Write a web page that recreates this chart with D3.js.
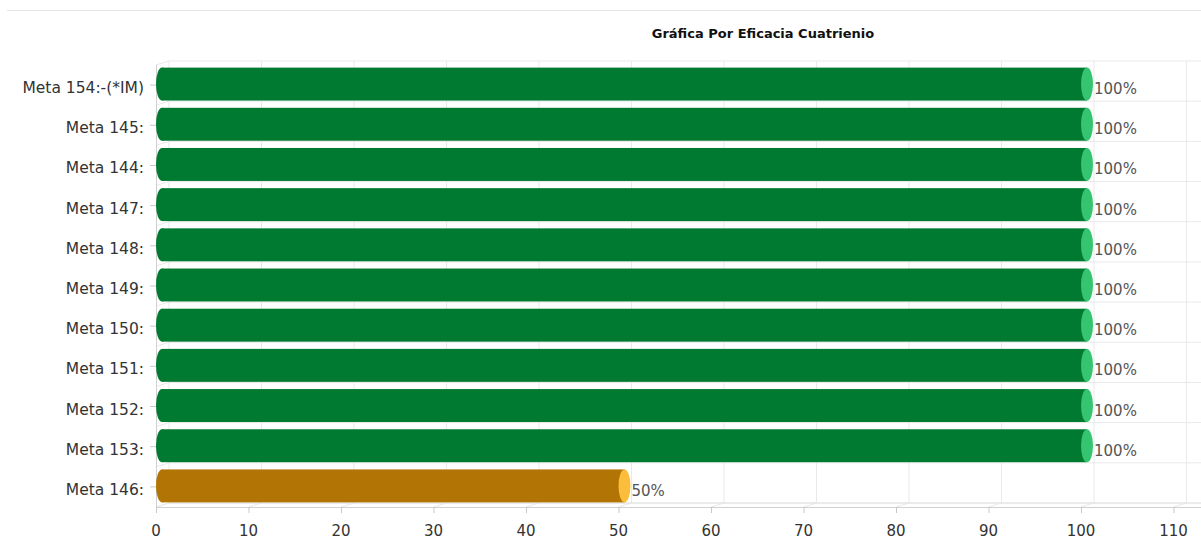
<!DOCTYPE html>
<html><head><meta charset="utf-8">
<script src="https://cdn.jsdelivr.net/npm/d3@7"></script>
<style>html,body{margin:0;padding:0;background:#fff;overflow:hidden}</style>
</head><body>
<svg id="c" width="1201" height="541"></svg>
<script>
const title = "Gráfica Por Eficacia Cuatrienio";
const categories = ["Meta 154:-(*IM)","Meta 145:","Meta 144:","Meta 147:","Meta 148:","Meta 149:","Meta 150:","Meta 151:","Meta 152:","Meta 153:","Meta 146:"];
const values = [100,100,100,100,100,100,100,100,100,100,50];
const valueLabels = ["100%","100%","100%","100%","100%","100%","100%","100%","100%","100%","50%"];
const xTicks = [0,10,20,30,40,50,60,70,80,90,100,110];

(function(){
const W = 1201, H = 541;
const svg = d3.select("#c");
const font = "DejaVu Sans, Verdana, sans-serif";
const dx = 13, dy = -4;      // 3D depth
const pLeft = 156, pTop = 65, pBottom = 507;

const x = d3.scaleLinear().domain([0,110]).range([pLeft, 1173.5]);
const y = d3.scaleBand().domain(categories).range([pTop, pBottom]).paddingInner(0.18).paddingOuter(0.09);

svg.append("line").attr("x1",7).attr("x2",W).attr("y1",10.5).attr("y2",10.5).attr("stroke","#e6e6e6");

svg.append("text").attr("x",763).attr("y",37.5).attr("text-anchor","middle")
  .attr("font-family",font).attr("font-weight","bold").attr("font-size",13).attr("fill","#111").text(title);

const gridC = "#e9e9e9";
const g = svg.append("g");
xTicks.forEach(t => {
  g.append("line").attr("x1",x(t)+dx).attr("x2",x(t)+dx).attr("y1",pTop+dy).attr("y2",pBottom+dy).attr("stroke",gridC);
  g.append("line").attr("x1",x(t)).attr("x2",x(t)+dx).attr("y1",pBottom).attr("y2",pBottom+dy).attr("stroke",gridC);
});
const bounds = [pTop].concat(categories.map(c => y(c) + y.bandwidth() + y.step()*y.paddingInner()/2).slice(0,-1)).concat([pBottom]);
bounds.forEach(b => {
  g.append("line").attr("x1",pLeft+dx).attr("x2",W).attr("y1",b+dy).attr("y2",b+dy).attr("stroke",gridC);
  g.append("line").attr("x1",pLeft).attr("x2",pLeft+dx).attr("y1",b).attr("y2",b+dy).attr("stroke",gridC);
});
g.append("line").attr("x1",pLeft+dx).attr("x2",W).attr("y1",pBottom+dy).attr("y2",pBottom+dy).attr("stroke","#e2e2e2");
g.append("line").attr("x1",pLeft).attr("x2",W).attr("y1",pBottom+0.5).attr("y2",pBottom+0.5).attr("stroke","#d0d0d0");
g.append("line").attr("x1",pLeft+0.5).attr("x2",pLeft+0.5).attr("y1",pTop).attr("y2",pBottom).attr("stroke","#d0d0d0");

categories.forEach(c => {
  const cy = y(c) + y.bandwidth()/2;
  g.append("line").attr("x1",pLeft-6).attr("x2",pLeft).attr("y1",cy).attr("y2",cy).attr("stroke","#c8c8c8");
  g.append("text").attr("x",pLeft-12).attr("y",cy+8).attr("text-anchor","end")
    .attr("font-family",font).attr("font-size",15.5).attr("fill","#333").text(c);
});
xTicks.forEach(t => {
  g.append("line").attr("x1",x(t)+0.5).attr("x2",x(t)+0.5).attr("y1",pBottom).attr("y2",pBottom+6).attr("stroke","#c8c8c8");
  g.append("text").attr("x",x(t)).attr("y",536).attr("text-anchor","middle")
    .attr("font-family",font).attr("font-size",15).attr("fill","#333").text(t);
});

const rx = 6;
const bodyCol = v => v >= 100 ? "#017a31" : "#b27405";
const capCol = v => v >= 100 ? "#35c46f" : "#fbbd3b";
const bars = svg.append("g");
categories.forEach((c,i) => {
  const v = values[i];
  const y0 = y(c) - 1, h = y.bandwidth();
  const cy = y0 + h/2, ry = h/2;
  const xs = x(0) + rx, xe = x(v) + rx;
  bars.append("ellipse").attr("cx",xs).attr("cy",cy).attr("rx",rx).attr("ry",ry).attr("fill",bodyCol(v));
  bars.append("rect").attr("x",xs).attr("y",y0).attr("width",xe-xs).attr("height",h).attr("fill",bodyCol(v));
  bars.append("ellipse").attr("cx",xe).attr("cy",cy).attr("rx",rx).attr("ry",ry).attr("fill",capCol(v));
  bars.append("text").attr("x",xe+rx+1).attr("y",cy+10)
    .attr("font-family",font).attr("font-size",15).attr("fill","#555").text(valueLabels[i]);
});
})();
</script>
</body></html>
